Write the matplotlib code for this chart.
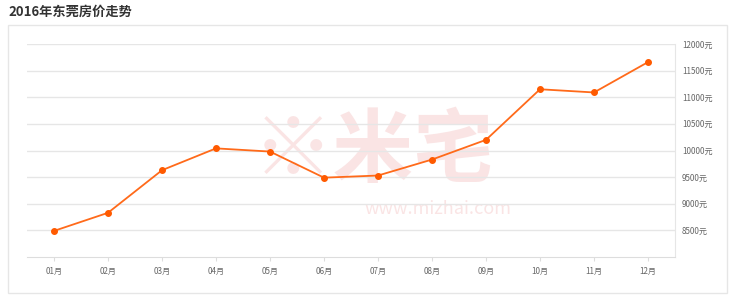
import matplotlib
matplotlib.use("Agg")
import matplotlib.pyplot as plt
from matplotlib.patches import Rectangle

plt.rcParams['font.family'] = ['Noto Sans CJK SC', 'DejaVu Sans']

months = ["01月", "02月", "03月", "04月", "05月", "06月", "07月", "08月", "09月", "10月", "11月", "12月"]
prices = [8490, 8830, 9630, 10040, 9980, 9490, 9530, 9830, 10200, 11150, 11090, 11660]
yticks = [8500, 9000, 9500, 10000, 10500, 11000, 11500, 12000]
ytick_labels = [f"{v}元" for v in yticks]
title = "2016年东莞房价走势"

W, H = 740, 307
fig = plt.figure(figsize=(W / 100, H / 100), dpi=100)

# outer frame
fig.patches.append(Rectangle((8 / W, 1 - 293 / H), (727 - 8) / W, (293 - 25) / H,
                             transform=fig.transFigure, fill=False,
                             edgecolor="#e6e6e6", linewidth=1.0))
fig.text(8 / W, 1 - 12 / H, title, fontsize=9.5, fontweight="bold",
         color="#333333", va="center", ha="left")

ax = fig.add_axes([27 / W, 1 - 257 / H, (675 - 27) / W, (257 - 44) / H])
x = list(range(len(months)))

# watermark
ax.text(0.535, 0.49, "※米宅", transform=ax.transAxes, fontsize=58, fontweight="bold",
        color="#f7d3d3", alpha=0.6, ha="center", va="center", zorder=0)
ax.text(0.635, 0.225, "www.mizhai.com", transform=ax.transAxes, fontsize=13,
        color="#f7d3d3", alpha=0.6, ha="center", va="center", zorder=0)

ax.plot(x, prices, color="#ff6a1a", linewidth=1.3, marker="o", markersize=4,
        markerfacecolor="#ff5a00", markeredgecolor="#ff5a00", zorder=3)

ax.set_xlim(-0.5, len(months) - 0.5)
ax.set_ylim(8000, 12000)
ax.set_xticks(x)
ax.set_xticklabels(months)
ax.set_yticks(yticks)
ax.set_yticklabels(ytick_labels)
ax.yaxis.tick_right()
ax.grid(axis="y", color="#e6e6e6", linewidth=1.0)
ax.set_axisbelow(True)
for s in ["top", "left"]:
    ax.spines[s].set_visible(False)
ax.spines["bottom"].set_color("#dddddd")
ax.spines["right"].set_color("#e6e6e6")
ax.tick_params(axis="x", length=3, color="#dddddd", labelsize=5.8, labelcolor="#666666", pad=4)
ax.tick_params(axis="y", length=0, labelsize=5.8, labelcolor="#666666", pad=5)

fig.savefig("out.png", dpi=100)
